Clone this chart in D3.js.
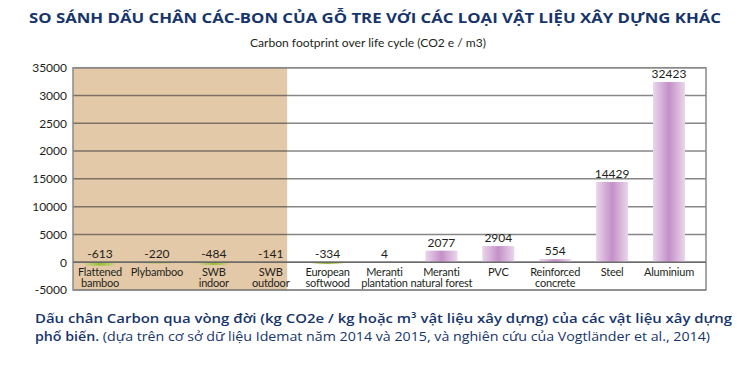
<!DOCTYPE html>
<html><head><meta charset="utf-8">
<script src="https://cdn.jsdelivr.net/npm/d3@7/dist/d3.min.js"></script>
<style>body{margin:0;background:#fff}svg{display:block}</style>
</head><body>
<svg id="c" width="750" height="366"></svg>
<script>
const categories = ["Flattened|bamboo","Plybamboo","SWB|indoor","SWB|outdoor","European|softwood","Meranti|plantation","Meranti|natural forest","PVC","Reinforced|concrete","Steel","Aluminium"];
const values = [-613,-220,-484,-141,-334,4,2077,2904,554,14429,32423];
const bambooCount = 4;
const tickValues = [35000,30000,25000,20000,15000,10000,5000,0,-5000];
const tickLabels = ["35000","3000","2500","2000","15000","10000","5000","0","-5000"];
const titleText = "SO SÁNH DẤU CHÂN CÁC-BON CỦA GỖ TRE VỚI CÁC LOẠI VẬT LIỆU XÂY DỰNG KHÁC";
const subtitleText = "Carbon footprint over life cycle (CO2 e / m3)";
const captionBold1 = "Dấu chân Carbon qua vòng đời (kg CO2e / kg hoặc m³ vật liệu xây dựng) của các vật liệu xây dựng";
const captionBold2 = "phổ biến.";
const captionNormal2 = " (dựa trên cơ sở dữ liệu Idemat năm 2014 và 2015, và nghiên cứu của Vogtländer et al., 2014)";

const svg = d3.select("#c");
const navy = "#17356a";
const L = 73, R = 706, T = 67.7, B = 290;

const x = d3.scalePoint().domain(categories).range([L + 27, R - 37]);
const y = d3.scaleLinear().domain([-5000, 35000]).range([B, T]);

const defs = svg.append("defs");
const gp = defs.append("linearGradient").attr("id","gp").attr("x1","0").attr("x2","1").attr("y1","0").attr("y2","0");
[[0,"#ead6ec"],[0.3,"#d3acd6"],[0.5,"#c48fc8"],[0.7,"#d3acd6"],[1,"#ead6ec"]].forEach(s=>gp.append("stop").attr("offset",s[0]).attr("stop-color",s[1]));
const gg = defs.append("linearGradient").attr("id","gg").attr("x1","0").attr("x2","1").attr("y1","0").attr("y2","0");
[[0,"#a8c84a",0.1],[0.25,"#a8c84a",0.8],[0.5,"#95be32",1],[0.75,"#a8c84a",0.8],[1,"#a8c84a",0.1]].forEach(s=>gg.append("stop").attr("offset",s[0]).attr("stop-color",s[1]).attr("stop-opacity",s[2]));

// bamboo shading
const shadeRight = (x(categories[bambooCount-1]) + x(categories[bambooCount])) / 2 - 12;
svg.append("rect").attr("x", L).attr("y", T).attr("width", shadeRight - L).attr("height", B - T).attr("fill", "#e3c9a7");

// gridlines
svg.append("g").selectAll("line").data(tickValues).join("line")
  .attr("x1", L).attr("x2", R).attr("y1", d=>y(d)).attr("y2", d=>y(d))
  .attr("stroke", "rgba(55,55,55,0.6)").attr("stroke-width", 1.5);

// bars
const bw = 32;
svg.append("g").selectAll("rect").data(values).join("rect")
  .attr("x", (d,i)=>x(categories[i]) - bw/2)
  .attr("width", bw)
  .attr("y", d=>y(Math.max(0,d)))
  .attr("height", d=>Math.abs(y(d)-y(0)))
  .attr("fill", d=> d<0 ? "url(#gg)" : "url(#gp)");

// frame
svg.append("rect").attr("x", L).attr("y", T).attr("width", R-L).attr("height", B-T)
  .attr("fill","none").attr("stroke","#8a8a8a").attr("stroke-width",1.5);
svg.append("line").attr("x1",L).attr("x2",R).attr("y1",y(0)).attr("y2",y(0)).attr("stroke","#6b6b6b").attr("stroke-width",1.5);

const chartFont = "Lato, 'Open Sans', sans-serif";

// value labels
svg.append("g").selectAll("text").data(values).join("text")
  .attr("x", (d,i)=>x(categories[i]))
  .attr("y", d=>y(Math.max(0,d)) - 4)
  .attr("text-anchor","middle").attr("font-family",chartFont).attr("font-size",12).attr("fill","#231f20")
  .text(d=>d);

// category labels
const cl = svg.append("g").selectAll("text").data(categories).join("text")
  .attr("text-anchor","middle").attr("font-family",chartFont).attr("font-size",11)
  .attr("letter-spacing","-0.2px").attr("fill","#231f20");
cl.each(function(d){
  const parts = d.split("|");
  const t = d3.select(this);
  parts.forEach((p,k)=>t.append("tspan").attr("x", x(d)).attr("y", 275.5 + k*11.5).text(p));
});

// y axis
const ax = svg.append("g").attr("transform",`translate(${L-6},0)`)
  .call(d3.axisLeft(y).tickValues(tickValues).tickSize(0).tickPadding(0).tickFormat((d,i)=>tickLabels[i]));
ax.select(".domain").remove();
ax.selectAll("text").attr("font-family",chartFont).attr("font-size",12).attr("fill","#231f20");

// title
svg.append("text").attr("x",375).attr("y",23).attr("text-anchor","middle")
  .attr("font-family","'Open Sans', sans-serif").attr("font-weight",700).attr("font-size",15).attr("fill",navy)
  .attr("textLength",692).attr("lengthAdjust","spacingAndGlyphs").text(titleText);
svg.append("text").attr("x",368).attr("y",47).attr("text-anchor","middle")
  .attr("font-family",chartFont).attr("font-size",11.5).attr("fill","#231f20")
  .attr("textLength",236).attr("lengthAdjust","spacingAndGlyphs").text(subtitleText);

// caption
svg.append("text").attr("x",35).attr("y",323)
  .attr("font-family","'Open Sans', sans-serif").attr("font-weight",600).attr("font-size",13).attr("fill",navy)
  .attr("textLength",697).attr("lengthAdjust","spacingAndGlyphs").text(captionBold1);
const c2 = svg.append("text").attr("x",35).attr("y",341)
  .attr("font-family","'Open Sans', sans-serif").attr("font-size",13).attr("fill",navy)
  .attr("textLength",675).attr("lengthAdjust","spacingAndGlyphs");
c2.append("tspan").attr("font-weight",600).text(captionBold2);
c2.append("tspan").attr("font-weight",400).text(captionNormal2);
</script>
</body></html>
